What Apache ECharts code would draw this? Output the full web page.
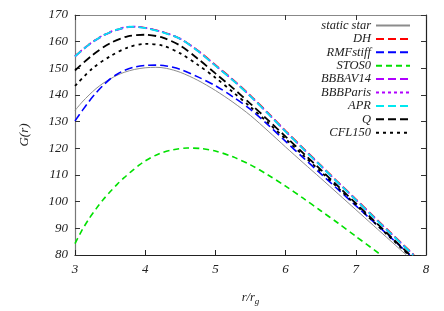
<!DOCTYPE html>
<html>
<head>
<meta charset="utf-8">
<script src="https://cdn.jsdelivr.net/npm/echarts@6/dist/echarts.min.js"></script>
<style>html,body{margin:0;padding:0;background:#fff}#c{width:444px;height:311px}</style>
</head>
<body>
<div id="c"></div>
<script>
const xTicks = [3, 4, 5, 6, 7, 8];
const yTicks = [80, 90, 100, 110, 120, 130, 140, 150, 160, 170];
const seriesNames = ['static star', 'DH', 'RMFstiff', 'STOS0', 'BBBAV14', 'BBBParis', 'APR', 'Q', 'CFL150'];

const staticStar = [[3,134.2],[3.1,137.3],[3.2,140],[3.3,142.4],[3.4,144.4],[3.5,146],[3.6,147.4],[3.7,148.5],[3.85,149.6],[4,150.2],[4.15,150.4],[4.3,150],[4.5,148.5],[4.75,145.5],[5,141.7],[5.25,137.3],[5.5,132.3],[5.75,126.5],[6,120.5],[6.25,114.6],[6.5,108.8],[6.75,102.9],[7,97],[7.25,91.1],[7.5,85.2],[7.72,80]];
const dh = [[3,154.6],[3.2,159],[3.4,162.3],[3.6,164.5],[3.8,165.6],[4,165.2],[4.25,163.6],[4.5,161.1],[4.75,156.7],[5,151.3],[5.25,145.8],[5.5,139.8],[5.75,133.3],[6,126.6],[6.25,120.1],[6.5,113.7],[6.75,107.3],[7,101],[7.25,94.6],[7.5,88.3],[7.83,80]];
const rmfStiff = [[3,130.3],[3.1,134],[3.2,137.6],[3.3,140.8],[3.4,143.6],[3.5,146],[3.6,147.8],[3.7,149.2],[3.85,150.5],[4,151.1],[4.15,151.2],[4.3,150.9],[4.5,149.6],[4.75,146.8],[5,143.5],[5.25,139.3],[5.5,134.6],[5.75,128.8],[6,122.6],[6.25,116.5],[6.5,110.5],[6.75,104.5],[7,98.5],[7.25,92.5],[7.5,86.5],[7.77,80]];
const stos0 = [[3,84.3],[3.1,89.3],[3.2,93.6],[3.3,97.3],[3.4,100.7],[3.5,103.7],[3.6,106.5],[3.7,109],[3.8,111.3],[3.9,113.4],[4,115.3],[4.2,118],[4.4,119.5],[4.6,120.1],[4.8,119.9],[5,119],[5.25,116.8],[5.5,113.8],[5.75,110],[6,105.8],[6.25,101.3],[6.5,96.6],[6.75,91.9],[7,87],[7.36,80]];
const bbbav14 = [[3,154.4],[3.2,158.8],[3.4,162.2],[3.6,164.4],[3.8,165.5],[4,165.1],[4.25,163.5],[4.5,161],[4.75,156.5],[5,151],[5.25,145.5],[5.5,139.5],[5.75,133],[6,126.3],[6.25,119.8],[6.5,113.4],[6.75,107],[7,100.7],[7.25,94.3],[7.5,88],[7.82,80]];
const bbbParis = [[3,154.6],[3.2,159],[3.4,162.4],[3.6,164.6],[3.8,165.7],[4,165.2],[4.25,163.6],[4.5,161.1],[4.75,156.6],[5,151.1],[5.25,145.6],[5.5,139.6],[5.75,133.1],[6,126.4],[6.25,119.9],[6.5,113.5],[6.75,107.1],[7,100.8],[7.25,94.4],[7.5,88.1],[7.82,80.1]];
const apr = [[3,154.5],[3.2,158.9],[3.4,162.3],[3.6,164.5],[3.8,165.6],[4,165.1],[4.25,163.5],[4.5,161],[4.75,156.5],[5,151],[5.25,145.5],[5.5,139.5],[5.75,133],[6,126.3],[6.25,119.8],[6.5,113.4],[6.75,107],[7,100.7],[7.25,94.3],[7.5,88],[7.82,80]];
const q = [[3,149.2],[3.25,155],[3.5,159.4],[3.75,162],[4,162.6],[4.25,161.5],[4.5,158.5],[4.75,153.6],[5,148.1],[5.25,142.6],[5.5,136.7],[5.75,130.6],[6,124.4],[6.25,118.2],[6.5,112],[6.75,105.7],[7,99.4],[7.25,93.1],[7.5,86.8],[7.8,79.3]];
const cfl150 = [[3,143.4],[3.25,150],[3.5,154.5],[3.75,157.8],[4,159.2],[4.25,158.5],[4.5,155.6],[4.75,151.3],[5,146.5],[5.25,141.1],[5.5,135.5],[5.75,129.6],[6,123.5],[6.25,117.4],[6.5,111.3],[6.75,105.1],[7,98.8],[7.25,92.5],[7.5,86.3],[7.8,78.8]];

const dataList = [staticStar, dh, rmfStiff, stos0, bbbav14, bbbParis, apr, q, cfl150];
const styles = [
  {color:'#8c8c8c', width:1, type:'solid'},
  {color:'#ff0000', width:1.6, type:[8,4]},
  {color:'#0000ff', width:1.6, type:[8,4]},
  {color:'#00e000', width:1.6, type:[6,4]},
  {color:'#b000ff', width:1.6, type:[8,4]},
  {color:'#b000ff', width:1.6, type:[3,3]},
  {color:'#00e8f0', width:1.8, type:[8,4]},
  {color:'#000000', width:1.8, type:[8,4]},
  {color:'#000000', width:1.8, type:[3,4]}
];

const font = 'Liberation Serif';
const chart = echarts.init(document.getElementById('c'), null, {renderer:'canvas'});
chart.setOption({
  animation: false,
  backgroundColor: '#fff',
  grid: {left:75, right:18, top:15, bottom:52},
  legend: {
    orient:'vertical', right:28, top:14, align:'right',
    itemWidth:34, itemHeight:12, itemGap:0.4,
    itemStyle:{opacity:0},
    textStyle:{fontFamily:font, fontStyle:'italic', fontSize:12.5, color:'#222', lineHeight:12},
    data: seriesNames
  },
  xAxis: [
    {type:'value', min:3, max:8, interval:1, position:'bottom',
     axisLine:{lineStyle:{color:'#222', width:1.2}},
     axisTick:{inside:true, length:5, lineStyle:{color:'#222'}},
     axisLabel:{fontFamily:font, fontStyle:'italic', fontSize:13, color:'#222', margin:8},
     splitLine:{show:false},
     name:'{a|r/r}{s|g}', nameLocation:'middle', nameGap:34,
     nameTextStyle:{rich:{a:{fontFamily:font, fontStyle:'italic', fontSize:12.5, color:'#222'}, s:{fontFamily:font, fontStyle:'italic', fontSize:9, color:'#222', padding:[8,0,0,0]}}}
    },
    {type:'value', min:3, max:8, interval:1, position:'top',
     axisLine:{lineStyle:{color:'#888', width:1.2}},
     axisTick:{inside:true, length:5, lineStyle:{color:'#333'}},
     axisLabel:{show:false}, splitLine:{show:false}}
  ],
  yAxis: [
    {type:'value', min:80, max:170, interval:10, position:'left',
     axisLine:{show:true, lineStyle:{color:'#777', width:1.2}},
     axisTick:{show:true, inside:true, length:5, lineStyle:{color:'#333'}},
     axisLabel:{fontFamily:font, fontStyle:'italic', fontSize:13, color:'#222', margin:7},
     splitLine:{show:false},
     name:'G(r)', nameLocation:'middle', nameGap:44, nameRotate:90,
     nameTextStyle:{fontFamily:font, fontStyle:'italic', fontSize:13, color:'#222'}
    },
    {type:'value', min:80, max:170, interval:10, position:'right',
     axisLine:{show:true, lineStyle:{color:'#222', width:1.2}},
     axisTick:{show:true, inside:true, length:5, lineStyle:{color:'#333'}},
     axisLabel:{show:false}, splitLine:{show:false}}
  ],
  series: seriesNames.map((n,i)=>({
    name:n, type:'line', data:dataList[i], smooth:0.3, showSymbol:false, symbol:'none',
    xAxisIndex:0, yAxisIndex:0, clip:true,
    lineStyle:{color:styles[i].color, width:styles[i].width, type:styles[i].type},
    itemStyle:{color:styles[i].color}
  }))
});
</script>
</body>
</html>
